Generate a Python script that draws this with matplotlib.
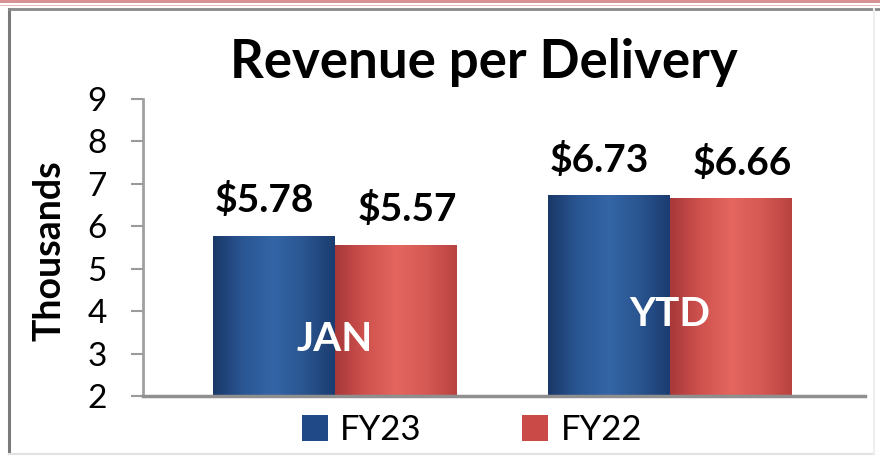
import numpy as np
import matplotlib
matplotlib.use("Agg")
import matplotlib.pyplot as plt
from matplotlib.colors import LinearSegmentedColormap
from matplotlib.patches import Rectangle
from matplotlib.lines import Line2D

plt.rcParams['font.family'] = ['Lato', 'DejaVu Sans']

# data (thousands of dollars)
categories = ["JAN", "YTD"]
series_names = ["FY23", "FY22"]
fy23 = [5.78, 6.73]
fy22 = [5.57, 6.66]
value_labels_fy23 = ["$5.78", "$6.73"]
value_labels_fy22 = ["$5.57", "$6.66"]
yticks = [2, 3, 4, 5, 6, 7, 8, 9]

blue = "#1F4A87"
red = "#C94A47"
cmap_blue = LinearSegmentedColormap.from_list(
    "b", ["#1a3868", "#2a5794", "#3465a6", "#2a5590", "#1b3c70"])
cmap_red = LinearSegmentedColormap.from_list(
    "r", ["#a8383a", "#d0524e", "#e4665f", "#d65955", "#b84340"])

W, H = 880, 461
fig = plt.figure(figsize=(W / 100, H / 100), dpi=100)
fig.patch.set_facecolor("white")

# decorative frame / top stripe
def px_rect(x0, y0, x1, y1, **kw):
    fig.patches.append(Rectangle((x0 / W, 1 - y1 / H), (x1 - x0) / W, (y1 - y0) / H,
                                 transform=fig.transFigure, **kw))

px_rect(0, 0, W, 3.5, facecolor="#d99294", edgecolor="none")
px_rect(0, 5, W, 6.5, facecolor="#e9b8b8", edgecolor="none")
fig.lines.append(Line2D([9 / W, 9 / W], [1 - 452 / H, 1 - 9 / H], transform=fig.transFigure,
                        color="#7a7a7a", lw=2.2))
fig.lines.append(Line2D([9 / W, 1], [1 - 9 / H, 1 - 9 / H], transform=fig.transFigure,
                        color="#8a8a8a", lw=2.0))
fig.lines.append(Line2D([9 / W, 874 / W], [1 - 454 / H, 1 - 454 / H], transform=fig.transFigure,
                        color="#e2e2e2", lw=1.5))
fig.lines.append(Line2D([874 / W, 874 / W], [1 - 454 / H, 1 - 9 / H], transform=fig.transFigure,
                        color="#eeeeee", lw=1.5))

ax = fig.add_axes([143 / W, 1 - 396 / H, 722 / W, 297 / H])
ax.set_facecolor("white")

x = np.arange(len(categories))
bw = 0.364
bars23 = ax.bar(x - bw / 2, fy23, width=bw, color=blue, zorder=2)
bars22 = ax.bar(x + bw / 2, fy22, width=bw, color=red, zorder=2)

ax.set_xlim(-0.573, 1.582)
ax.set_ylim(2, 9)
ymin = ax.get_ylim()[0]

# cylinder-like shading clipped to each bar
grad = np.linspace(0, 1, 256).reshape(1, -1)
for bars, cm in ((bars23, cmap_blue), (bars22, cmap_red)):
    for p in bars:
        im = ax.imshow(grad, cmap=cm, aspect="auto", zorder=3,
                       extent=[p.get_x(), p.get_x() + p.get_width(), ymin, p.get_height()])
        im.set_clip_path(p)
ax.set_xlim(-0.573, 1.582)
ax.set_ylim(2, 9)

ax.set_yticks(yticks)
ax.set_xticks([])
ax.tick_params(axis="y", direction="out", length=9, width=1.5, color="#9a9a9a",
               pad=17, labelsize=24)
for s in ("top", "right"):
    ax.spines[s].set_visible(False)
ax.spines["left"].set_color("#a0a0a0")
ax.spines["left"].set_linewidth(2)
ax.spines["bottom"].set_color("#8f8f8f")
ax.spines["bottom"].set_linewidth(2.5)
ax.spines["bottom"].set_zorder(4)

ax.set_ylabel("Thousands", fontsize=27, fontweight="bold")
ax.yaxis.set_label_coords(-0.106, 0.49)

# value labels above bars
for bars, labels, dx in ((bars23, value_labels_fy23, -7), (bars22, value_labels_fy22, 8)):
    for p, lab in zip(bars, labels):
        ax.annotate(lab, (p.get_x() + p.get_width() / 2, p.get_height()),
                    xytext=(dx, 17), textcoords="offset points", ha="center",
                    va="baseline", fontsize=28, fontweight="bold", zorder=5)

# category labels inside bars
cat_y = [3.32, 3.93]
for xi, cat, cy in zip(x, categories, cat_y):
    ax.text(xi, cy, cat, ha="center", va="center", color="white", fontsize=29,
            fontweight="bold", zorder=5)

fig.text(484 / W, 1 - 62 / H, "Revenue per Delivery", ha="center", va="center",
         fontsize=38, fontweight="bold")

fig.legend([bars23, bars22], series_names, loc="center",
           bbox_to_anchor=(472 / W, 1 - 430 / H), ncol=2, frameon=False, fontsize=25,
           handlelength=0.75, handleheight=0.75, handletextpad=0.35, columnspacing=2.9)

fig.savefig("out.png", dpi=100, facecolor="white")
